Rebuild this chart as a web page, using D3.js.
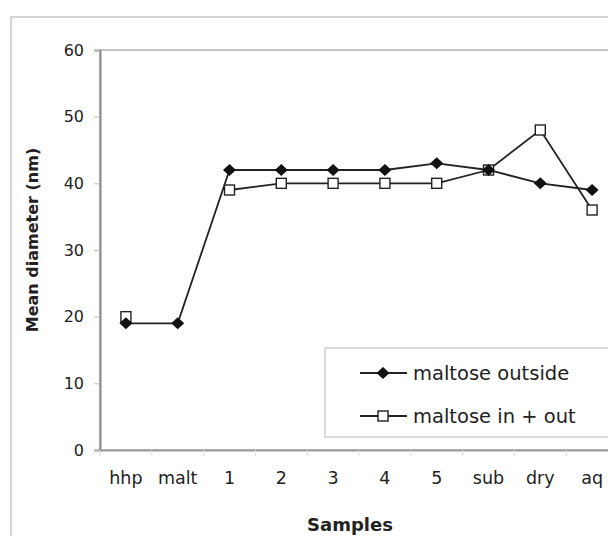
<!DOCTYPE html>
<html><head><meta charset="utf-8">
<script src="https://cdn.jsdelivr.net/npm/d3@7"></script>
<style>body{margin:0;background:#fff}svg{display:block}text{font-family:"DejaVu Sans",Verdana,sans-serif;fill:#222}</style>
</head><body><svg id="c" width="608" height="536"></svg>
<script>
const categories = ["hhp","malt","1","2","3","4","5","sub","dry","aq"];
const maltoseOutside = [19,19,42,42,42,42,43,42,40,39];
const maltoseInOut = [20,null,39,40,40,40,40,42,48,36];
const yTicks = [0,10,20,30,40,50,60];
const seriesNames = ["maltose outside","maltose in + out"];

const svg = d3.select("#c");
const L=100,R=618,T=50,B=450;
const x = d3.scaleBand().domain(categories).range([L,R]).padding(0);
const y = d3.scaleLinear().domain([0,60]).range([B,T]);

// outer chart frame
svg.append("rect").attr("x",11).attr("y",17).attr("width",700).attr("height",600)
  .attr("fill","#fff").attr("stroke","#d4d4d4").attr("stroke-width",2);
// plot border
svg.append("rect").attr("x",L).attr("y",T).attr("width",R-L).attr("height",B-T)
  .attr("fill","none").attr("stroke","#c4c4c4").attr("stroke-width",2);

// y axis
const ya = svg.append("g").attr("transform",`translate(${L},0)`)
  .call(d3.axisLeft(y).tickValues(yTicks).tickSize(6).tickPadding(10));
ya.select(".domain").attr("stroke","#8a8a8a").attr("stroke-width",2);
ya.selectAll(".tick line").attr("stroke","#bbb");
ya.selectAll(".tick text").attr("font-size",16).attr("fill","#222");

// x axis
const xa = svg.append("g").attr("transform",`translate(0,${B})`)
  .call(d3.axisBottom(x).tickSize(0).tickPadding(22));
xa.select(".domain").attr("stroke","#9a9a9a").attr("stroke-width",2);
xa.selectAll(".tick text").attr("font-size",17.5).attr("fill","#222");
xa.selectAll(".sep").data(categories).enter().append("line")
  .attr("x1",d=>x(d)).attr("x2",d=>x(d)).attr("y1",0).attr("y2",6).attr("stroke","#ddd");

// titles
svg.append("text").attr("transform","translate(38,240) rotate(-90)").attr("text-anchor","middle")
  .attr("font-size",16).attr("font-weight","bold").text("Mean diameter (nm)");
svg.append("text").attr("x",350).attr("y",531).attr("text-anchor","middle")
  .attr("font-size",18).attr("font-weight","bold").text("Samples");

const cx = d=>x(d)+x.bandwidth()/2;
const line = d3.line().defined(d=>d.v!=null).x(d=>cx(d.c)).y(d=>y(d.v));
const s1 = categories.map((c,i)=>({c,v:maltoseOutside[i]}));
const s2 = categories.map((c,i)=>({c,v:maltoseInOut[i]}));

svg.append("path").datum(s1).attr("d",line).attr("fill","none").attr("stroke","#222").attr("stroke-width",1.8);
svg.append("path").datum(s2).attr("d",line).attr("fill","none").attr("stroke","#222").attr("stroke-width",1.8);

const diamondPath = "M0,-6L6.5,0L0,6L-6.5,0Z";
svg.selectAll(".sq").data(s2.filter(d=>d.v!=null)).enter().append("rect")
  .attr("x",d=>cx(d.c)-5).attr("y",d=>y(d.v)-5).attr("width",10).attr("height",10)
  .attr("fill","#fff").attr("stroke","#222").attr("stroke-width",1.4);
svg.selectAll(".dm").data(s1).enter().append("path").attr("d",diamondPath)
  .attr("transform",d=>`translate(${cx(d.c)},${y(d.v)})`).attr("fill","#111");

// legend
svg.append("rect").attr("x",325).attr("y",348).attr("width",400).attr("height",89)
  .attr("fill","#fff").attr("stroke","#d0d0d0").attr("stroke-width",1.5);
const lg = [{n:seriesNames[0],y:373,t:"d"},{n:seriesNames[1],y:416,t:"s"}];
lg.forEach(o=>{
  svg.append("line").attr("x1",360).attr("x2",407).attr("y1",o.y).attr("y2",o.y).attr("stroke","#222").attr("stroke-width",1.8);
  if(o.t==="d") svg.append("path").attr("d",diamondPath).attr("transform",`translate(383,${o.y})`).attr("fill","#111");
  else svg.append("rect").attr("x",378).attr("y",o.y-5).attr("width",10).attr("height",10).attr("fill","#fff").attr("stroke","#222").attr("stroke-width",1.4);
  svg.append("text").attr("x",413).attr("y",o.y+7).attr("font-size",19.5).text(o.n);
});
</script></body></html>
